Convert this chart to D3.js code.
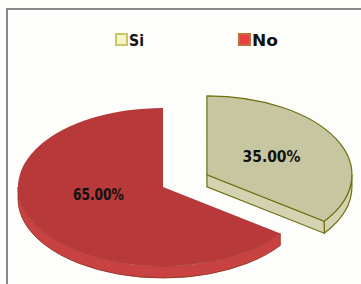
<!DOCTYPE html>
<html><head><meta charset="utf-8">
<script src="https://cdn.jsdelivr.net/npm/d3@7"></script>
<style>html,body{margin:0;padding:0;background:#fff}svg{display:block}</style>
</head><body>
<script>
const categories = ["Si", "No"];
const values = [35, 65];
const labels = ["35.00%", "65.00%"];

const W = 361, H = 284;
const topColors = {Si: "#c6c6a0", No: "#b7393a"};
const sideColors = {Si: "#d3d3b2", No: "#c84242"};
const strokeColors = {Si: "#6f6f10", No: "#8a3020"};
const legendFill = {Si: "#f4f4c8", No: "#e8403e"};
const legendStroke = {Si: "#c8c860", No: "#c07040"};

const svg = d3.select("body").append("svg").attr("width", W).attr("height", H);
svg.append("rect").attr("width", W).attr("height", H).attr("fill", "#fdfdfb");
// frame (extends beyond the window on right and bottom)
svg.append("rect").attr("x", 7).attr("y", 9).attr("width", 400).attr("height", 320)
  .attr("fill", "none").attr("stroke", "#8a8a8a").attr("stroke-width", 2);

const cx = 163, cy = 187, rx = 145, ry = 79, depth = 12, explode = 0.34;
const pie = d3.pie().sort(null).value(d => d.v);
const arcs = pie(categories.map((c, i) => ({c, v: values[i], label: labels[i]})));

function pt(o, a, dy = 0) { return [o[0] + rx * Math.sin(a), o[1] - ry * Math.cos(a) + dy]; }

const g = svg.append("g");
const exploded = {Si: true, No: false};
const fontFam = "DejaVu Sans, Verdana, sans-serif";

const order = arcs.slice().sort((a, b) => (exploded[a.data.c] ? 1 : 0) - (exploded[b.data.c] ? 1 : 0));
order.forEach(d => {
  const mid = (d.startAngle + d.endAngle) / 2;
  const e = exploded[d.data.c] ? explode : 0;
  const o = [cx + rx * e * Math.sin(mid), cy - ry * e * Math.cos(mid)];
  const c = d.data.c;
  const sc = strokeColors[c];
  const a0 = Math.max(d.startAngle, Math.PI / 2), a1 = Math.min(d.endAngle, 3 * Math.PI / 2);
  if (a1 > a0) {
    const p0 = pt(o, a0), p1 = pt(o, a1), q1 = pt(o, a1, depth), q0 = pt(o, a0, depth);
    const large = (a1 - a0) > Math.PI ? 1 : 0;
    g.append("path").attr("d",
      `M${p0}A${rx},${ry} 0 ${large} 1 ${p1}L${q1}A${rx},${ry} 0 ${large} 0 ${q0}Z`)
      .attr("fill", sideColors[c]).attr("stroke", sc).attr("stroke-width", exploded[c] ? 1.2 : 0.8)
      .attr("stroke-linejoin", "round");
  }
  if (d.endAngle > Math.PI / 2 && d.endAngle < 3 * Math.PI / 2) {
    const p = pt(o, d.endAngle), q = pt(o, d.endAngle, depth);
    g.append("path").attr("d", `M${o}L${p}L${q}L${[o[0], o[1] + depth]}Z`)
      .attr("fill", sideColors[c]).attr("stroke", sc).attr("stroke-width", 1.2);
  }
  const s = pt(o, d.startAngle), t = pt(o, d.endAngle);
  const large = (d.endAngle - d.startAngle) > Math.PI ? 1 : 0;
  g.append("path").attr("d", `M${o}L${s}A${rx},${ry} 0 ${large} 1 ${t}Z`)
    .attr("fill", topColors[c]).attr("stroke", exploded[c] ? sc : "none").attr("stroke-width", 1.2)
    .attr("stroke-linejoin", "round");
  const lx = o[0] + rx * 0.5 * Math.sin(mid);
  const ly = o[1] - ry * (exploded[c] ? 0.5 : 0.2) * Math.cos(mid);
  g.append("text").attr("x", lx).attr("y", ly).attr("dy", "0.36em")
    .attr("text-anchor", "middle")
    .attr("font-family", fontFam).attr("font-weight", "bold")
    .attr("font-size", 15).attr("fill", "#111")
    .attr("textLength", exploded[c] ? 58 : 51).attr("lengthAdjust", "spacingAndGlyphs")
    .text(d.data.label);
});

const lxs = d3.scalePoint().domain(categories).range([115, 238]);
const leg = svg.append("g");
categories.forEach(c => {
  const x = lxs(c);
  leg.append("rect").attr("x", x + 1).attr("y", 34).attr("width", 11).attr("height", 11)
    .attr("fill", legendFill[c]).attr("stroke", legendStroke[c]).attr("stroke-width", 2);
  leg.append("text").attr("x", x + 14).attr("y", 46)
    .attr("font-family", fontFam).attr("font-weight", "bold")
    .attr("font-size", 15).attr("fill", "#111")
    .attr("textLength", c === "Si" ? 15 : 26).attr("lengthAdjust", "spacingAndGlyphs")
    .text(c);
});
</script>
</body></html>
